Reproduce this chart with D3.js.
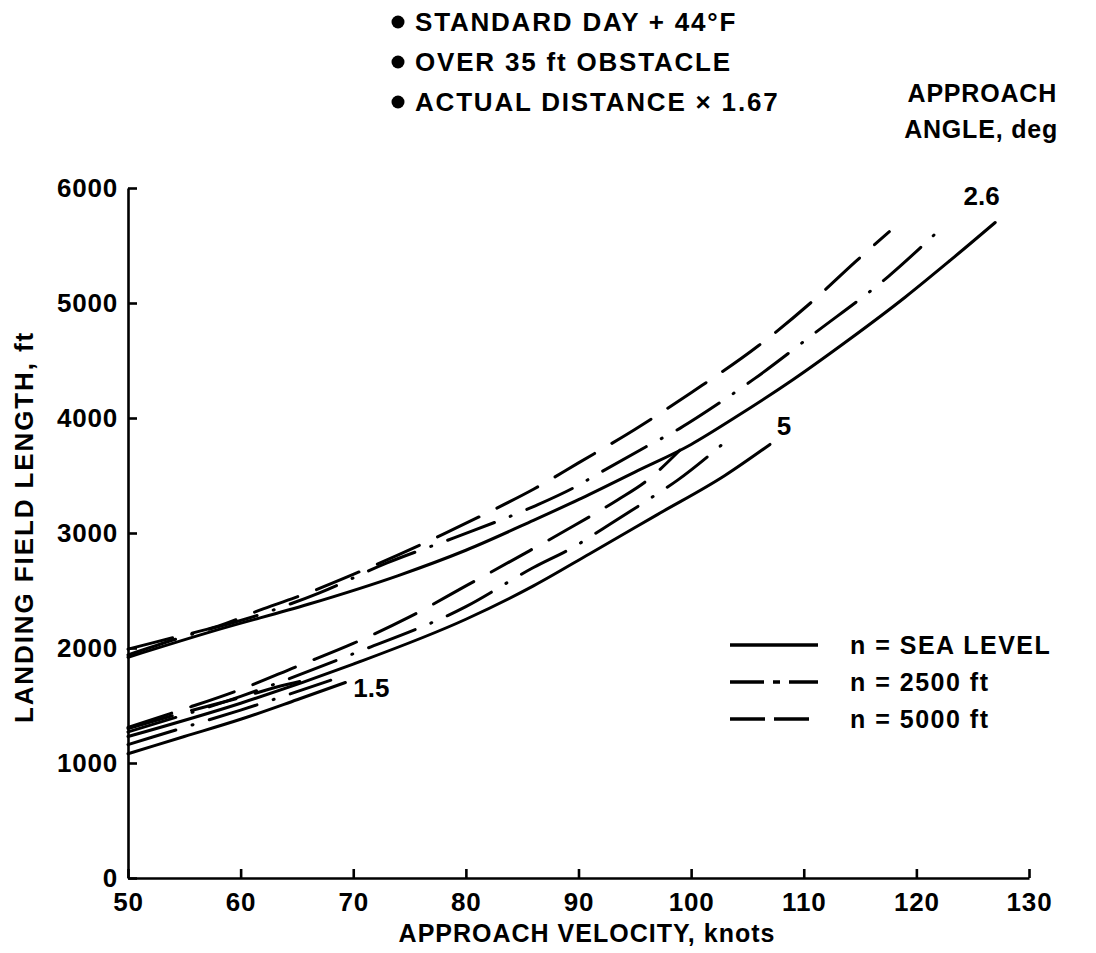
<!DOCTYPE html>
<html><head><meta charset="utf-8">
<script src="https://cdn.jsdelivr.net/npm/d3@7/dist/d3.min.js"></script>
<style>
body{margin:0;background:#fff}
svg{display:block}
text{font-family:"Liberation Sans",Arial,Helvetica,sans-serif;font-weight:bold;fill:#000}
</style>
</head><body>
<svg id="c" width="1096" height="953"></svg>
<script>
// ---- data ----
const xTicks = [50,60,70,80,90,100,110,120,130];
const yTicks = [0,1000,2000,3000,4000,5000,6000];
const notes = ["STANDARD DAY + 44°F","OVER 35 ft OBSTACLE","ACTUAL DISTANCE × 1.67"];
const legendLabels = ["n = SEA LEVEL","n = 2500 ft","n = 5000 ft"];
const angleLabels = ["2.6","5","1.5"];
const angleLabelPos = [[125.8,5850],[107.6,3850],[70,1575]];

// angle 2.6
const sl26 = [[50,1920],[58,2160],[66,2380],[74,2630],[80,2850],[86,3110],[90,3290],[95,3530],[100,3770],[104,4010],[109,4330],[114,4680],[119,5050],[123,5370],[127,5700]];
const dd26 = [[50,1940],[55,2100],[62,2300],[67,2480],[73,2740],[79,2960],[86,3230],[89.5,3390],[92,3530],[96,3750],[99,3910],[102.5,4130],[105.6,4340],[111,4740],[117.5,5230],[122.2,5650]];
const ds26 = [[50,1990],[54,2090],[58,2190],[62,2340],[66,2480],[70,2640],[74,2810],[78,2990],[82,3180],[86,3380],[90,3610],[95,3900],[100,4220],[106,4630],[110.6,5000],[114.6,5360],[117.6,5620]];
// angle 5
const sl5 = [[50,1230],[60,1520],[70,1860],[80,2250],[86,2540],[91,2820],[97,3160],[103,3500],[107,3770]];
const dd5 = [[50,1270],[60,1580],[70,1950],[80,2360],[86,2700],[89.6,2880],[92.2,3040],[96.2,3290],[98.8,3460],[103,3790]];
const ds5 = [[50,1310],[55,1470],[60,1640],[65,1840],[70,2040],[75,2270],[80,2540],[85,2810],[89,3030],[93.5,3290],[96,3450],[99,3720]];
// angle 1.5
const sl15 = [[50,1080],[55,1230],[60,1380],[65,1550],[69.3,1700]];
const dd15 = [[50,1160],[55,1310],[60,1460],[65,1620],[68,1720]];
const ds15 = [[50,1300],[55,1440],[60,1570],[64,1680],[66.8,1740]];

const series = [
  {d:sl26,t:0},{d:dd26,t:1},{d:ds26,t:2},
  {d:sl5,t:0},{d:dd5,t:1},{d:ds5,t:2},
  {d:sl15,t:0},{d:dd15,t:1},{d:ds15,t:2}
];
const dashes = [null,"50,17,1,17","46,20"];
const legendDashes = [null,"34,9,7,9,34","35,9"];

// ---- chart ----
const svg = d3.select("#c");
const x = d3.scaleLinear().domain([50,130]).range([128,1029]);
const y = d3.scaleLinear().domain([0,6000]).range([878,188]);

const gx = svg.append("g").attr("transform","translate(0,878)")
  .call(d3.axisBottom(x).tickValues(xTicks).tickSize(-9).tickSizeOuter(0).tickPadding(15).tickFormat(d3.format("d")));
const gy = svg.append("g").attr("transform","translate(128,0)")
  .call(d3.axisLeft(y).tickValues(yTicks).tickSize(-9).tickSizeOuter(0).tickPadding(10).tickFormat(d3.format("d")));
[gx,gy].forEach(g=>{
  g.select(".domain").attr("stroke","#000").attr("stroke-width",2.6);
  g.selectAll(".tick line").attr("stroke","#000").attr("stroke-width",2.6);
  g.selectAll(".tick text").style("font-size","26px").style("letter-spacing","0.8px").attr("fill","#000");
});

const line = d3.line().x(d=>x(d[0])).y(d=>y(d[1])).curve(d3.curveMonotoneX);
svg.append("g").selectAll("path").data(series).join("path")
  .attr("d",s=>line(s.d)).attr("fill","none").attr("stroke","#000")
  .attr("stroke-width",3).attr("stroke-linecap","round")
  .attr("stroke-dasharray",s=>dashes[s.t]);

// angle labels
svg.append("g").selectAll("text").data(angleLabels).join("text")
  .attr("x",(d,i)=>x(angleLabelPos[i][0])).attr("y",(d,i)=>y(angleLabelPos[i][1]))
  .attr("text-anchor",(d,i)=>i===0?"middle":"start")
  .style("font-size","26px").text(d=>d);

// axis titles
svg.append("text").attr("x",587).attr("y",942).attr("text-anchor","middle")
  .style("font-size","25px").style("letter-spacing","1px").text("APPROACH VELOCITY, knots");
svg.append("text").attr("transform","translate(33,527) rotate(-90)").attr("text-anchor","middle")
  .style("font-size","26px").style("letter-spacing","1.9px").text("LANDING FIELD LENGTH, ft");

// notes
const ng = svg.append("g");
notes.forEach((t,i)=>{
  ng.append("circle").attr("cx",398).attr("cy",22+i*40).attr("r",6.5).attr("fill","#000");
  ng.append("text").attr("x",415).attr("y",31+i*40).style("font-size","26px").style("letter-spacing","1.8px").text(t);
});
svg.append("text").attr("x",1057).attr("y",102).attr("text-anchor","end").style("font-size","25px").style("letter-spacing","0.8px").text("APPROACH");
svg.append("text").attr("x",1058).attr("y",138).attr("text-anchor","end").style("font-size","25px").style("letter-spacing","0.8px").text("ANGLE, deg");

// legend
const lg = svg.append("g");
legendLabels.forEach((t,i)=>{
  const yy = 645+i*37;
  lg.append("line").attr("x1",730).attr("x2",818).attr("y1",yy).attr("y2",yy)
    .attr("stroke","#000").attr("stroke-width",3.5).attr("stroke-dasharray",legendDashes[i]);
  lg.append("text").attr("x",850).attr("y",yy+9).style("font-size","25px").style("letter-spacing","1.5px").text(t);
});
</script>
</body></html>
